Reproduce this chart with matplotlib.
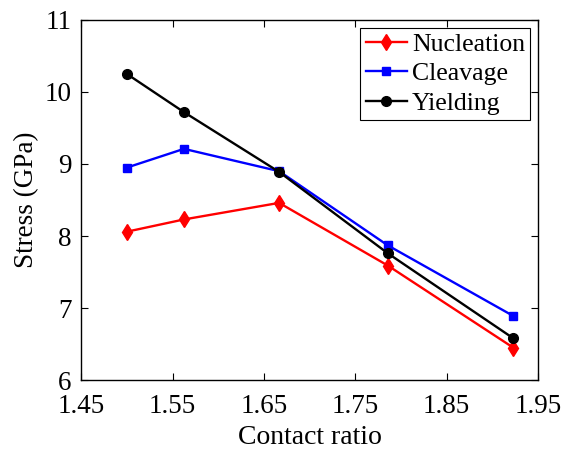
import matplotlib
matplotlib.use('Agg')
import matplotlib.pyplot as plt

# contact ratio vs critical stresses
contact_ratio = [1.5, 1.5625, 1.6667, 1.7857, 1.9231]
nucleation = [8.06, 8.23, 8.46, 7.59, 6.45]
cleavage = [8.95, 9.21, 8.90, 7.87, 6.89]
yielding = [10.25, 9.72, 8.89, 7.76, 6.58]

xticks = [1.45, 1.55, 1.65, 1.75, 1.85, 1.95]
yticks = [6, 7, 8, 9, 10, 11]

plt.rcParams['font.family'] = ['Liberation Serif', 'DejaVu Serif']

fig = plt.figure(figsize=(5.62, 4.53), dpi=100)
ax = fig.add_axes([0.1445, 0.161, 0.8125, 0.795])

ax.plot(contact_ratio, nucleation, color='red', marker='d', markersize=8, lw=1.7, label='Nucleation')
ax.plot(contact_ratio, cleavage, color='blue', marker='s', markersize=6, lw=1.7, label='Cleavage')
ax.plot(contact_ratio, yielding, color='black', marker='o', markersize=7, lw=1.7, label='Yielding')

ax.set_xlim(1.45, 1.95)
ax.set_ylim(6, 11)
ax.set_xticks(xticks)
ax.set_xticklabels(['%.2f' % v for v in xticks])
ax.set_yticks(yticks)
ax.tick_params(direction='in', top=True, right=True, length=5, width=0.8, labelsize=19.5)
ax.tick_params(axis='x', pad=10)
ax.tick_params(axis='y', pad=7)
for s in ax.spines.values():
    s.set_linewidth(1.0)

ax.set_xlabel('Contact ratio', fontsize=20, labelpad=4)
ax.set_ylabel('Stress (GPa)', fontsize=19.5, labelpad=4)

leg = ax.legend(loc='upper right', fontsize=18.5, fancybox=False, framealpha=1,
                edgecolor='black', handlelength=1.6, handletextpad=0.2,
                borderpad=0.2, labelspacing=0.25, borderaxespad=0.3)
leg.get_frame().set_linewidth(0.8)

fig.savefig('out.png', dpi=100)
